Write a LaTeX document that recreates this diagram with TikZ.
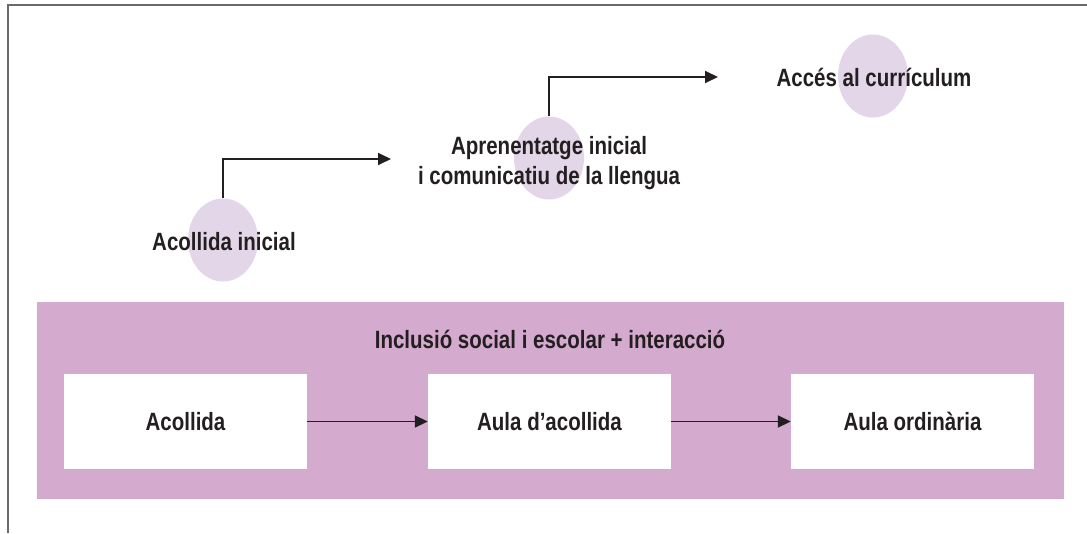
\documentclass[tikz,border=0pt]{standalone}
\usepackage{fontspec}
\newfontfamily\condfont[FakeStretch=0.82]{Liberation Sans}
\usetikzlibrary{shapes.geometric,arrows.meta}
\definecolor{bandcol}{HTML}{D4AACE}
\definecolor{ellcol}{HTML}{E3D6E9}
\definecolor{txtcol}{HTML}{231F20}
\definecolor{framecol}{HTML}{6A6A6A}
\tikzset{
  lbl/.style={font=\condfont\bfseries\fontsize{25}{30}\selectfont, text=txtcol, align=center, inner sep=0pt},
  blob/.style={ellipse, fill=ellcol, draw=none, minimum width=70pt, minimum height=83pt, inner sep=0pt},
  whitebox/.style={rectangle, fill=white, draw=none, minimum width=243pt, minimum height=95pt, inner sep=0pt},
  conn/.style={line width=1.8pt, draw=txtcol, -{Triangle[length=13pt,width=12pt]}},
}
\begin{document}
\begin{tikzpicture}[x=1pt,y=-1pt]
\useasboundingbox (0,0) rectangle (1087,533);
% frame (top and left edges)
\draw[framecol, line width=2pt] (8,533) -- (8,5) -- (1087,5);
% ellipses
\node[blob] (e1) at (223,240) {};
\node[blob] (e2) at (549,158) {};
\node[blob] (e3) at (873,76) {};
% labels
\node[lbl] (t1) at (224,242) {Acollida inicial};
\node[lbl] (t2) at (549,163) {Aprenentatge inicial\\i comunicatiu de la llengua};
\node[lbl] (t3) at (874,77) {Accés al currículum};
% step arrows
\coordinate (a1) at (391,159);
\coordinate (a2) at (718,77);
\draw[conn] (e1.north) |- (a1);
\draw[conn] (e2.north) |- (a2);
% band
\node[rectangle, fill=bandcol, draw=none, minimum width=1027pt, minimum height=197pt, inner sep=0pt] (band) at (550.5,400.5) {};
\node[lbl] (title) at (550,339) {Inclusió social i escolar + interacció};
\node[whitebox] (b1) at (185.5,421.5) {};
\node[whitebox] (b2) at (549.5,421.5) {};
\node[whitebox] (b3) at (912.5,421.5) {};
\node[lbl] at (b1) {Acollida};
\node[lbl] at (b2) {Aula d’acollida};
\node[lbl] at (b3) {Aula ordinària};
\draw[conn] (b1.east) -- (b2.west);
\draw[conn] (b2.east) -- (b3.west);
\end{tikzpicture}
\end{document}
